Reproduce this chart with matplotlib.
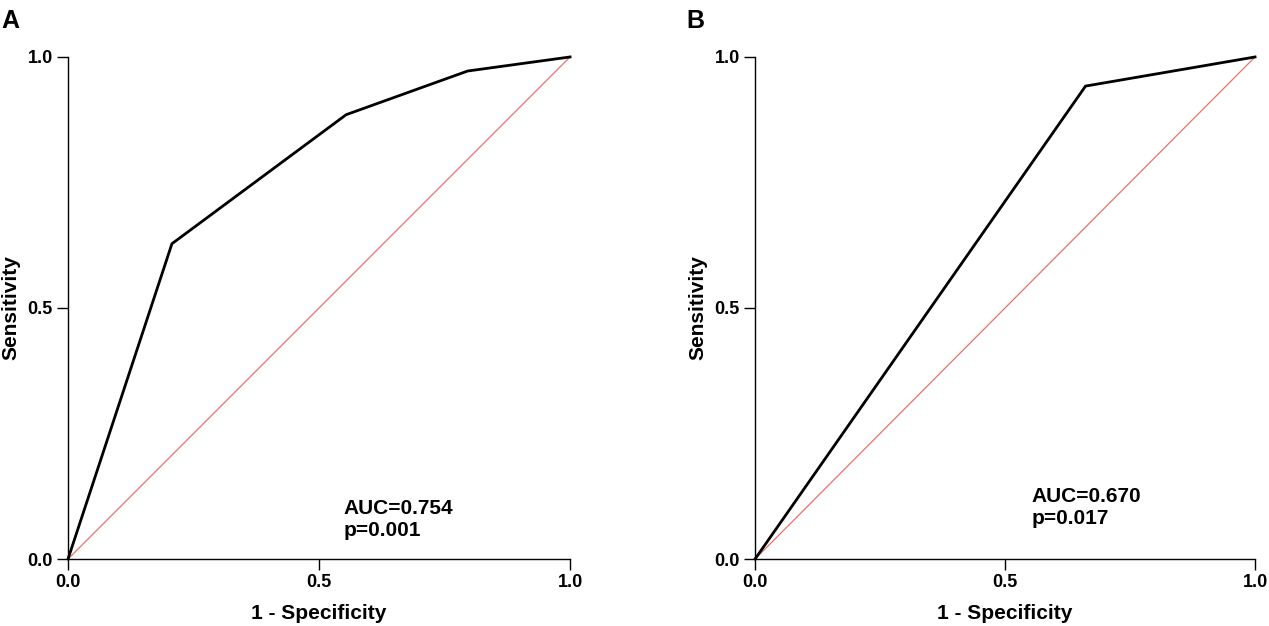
import matplotlib.pyplot as plt

plt.rcParams['font.family'] = ['Liberation Sans', 'DejaVu Sans']
plt.rcParams['font.weight'] = 'bold'

# ROC points
fpr_a = [0.0, 0.207, 0.554, 0.796, 1.0]
tpr_a = [0.0, 0.628, 0.885, 0.972, 1.0]
fpr_b = [0.0, 0.661, 1.0]
tpr_b = [0.0, 0.942, 1.0]
auc_labels = ["AUC=0.754\np=0.001", "AUC=0.670\np=0.017"]
panel_labels = ["A", "B"]
ticks = [0.0, 0.5, 1.0]

fig = plt.figure(figsize=(12.69, 6.26), dpi=100)
ax_a = fig.add_axes([0.0536, 0.107, 0.3956, 0.802])
ax_b = fig.add_axes([0.5950, 0.107, 0.3940, 0.802])

panels = [
    (ax_a, fpr_a, tpr_a, (0.548, 0.079), -0.094),
    (ax_b, fpr_b, tpr_b, (0.553, 0.103), -0.096),
]

for i, (ax, fpr, tpr, txt_pos, ylab_x) in enumerate(panels):
    ax.plot([0, 1], [0, 1], color='#e8736c', lw=0.9, zorder=2)
    ax.plot(fpr, tpr, color='black', lw=2.0, zorder=3, solid_joinstyle='miter')
    ax.set_xlim(0, 1)
    ax.set_ylim(0, 1)
    ax.set_xticks(ticks)
    ax.set_yticks(ticks)
    ax.set_xticklabels([f"{t:.1f}" for t in ticks], fontsize=13, fontweight='bold')
    ax.set_yticklabels([f"{t:.1f}" for t in ticks], fontsize=13, fontweight='bold')
    ax.tick_params(direction='out', length=8, width=1.0, pad=3)
    for side in ['top', 'right']:
        ax.spines[side].set_visible(False)
    for side in ['left', 'bottom']:
        ax.spines[side].set_linewidth(1.0)
    ax.set_xlabel('1 - Specificity', fontsize=15, fontweight='bold', labelpad=9)
    ax.set_ylabel('Sensitivity', fontsize=15, fontweight='bold')
    ax.yaxis.set_label_coords(ylab_x, 0.5)
    ax.text(txt_pos[0], txt_pos[1], auc_labels[i], fontsize=15, fontweight='bold',
            ha='left', va='center', linespacing=1.2)
    for line in ax.lines:
        line.set_clip_on(False)

fig.text(0.001, 0.985, panel_labels[0], fontsize=18, fontweight='bold', ha='left', va='top')
fig.text(0.541, 0.985, panel_labels[1], fontsize=18, fontweight='bold', ha='left', va='top')

fig.savefig('out.png', dpi=100)
